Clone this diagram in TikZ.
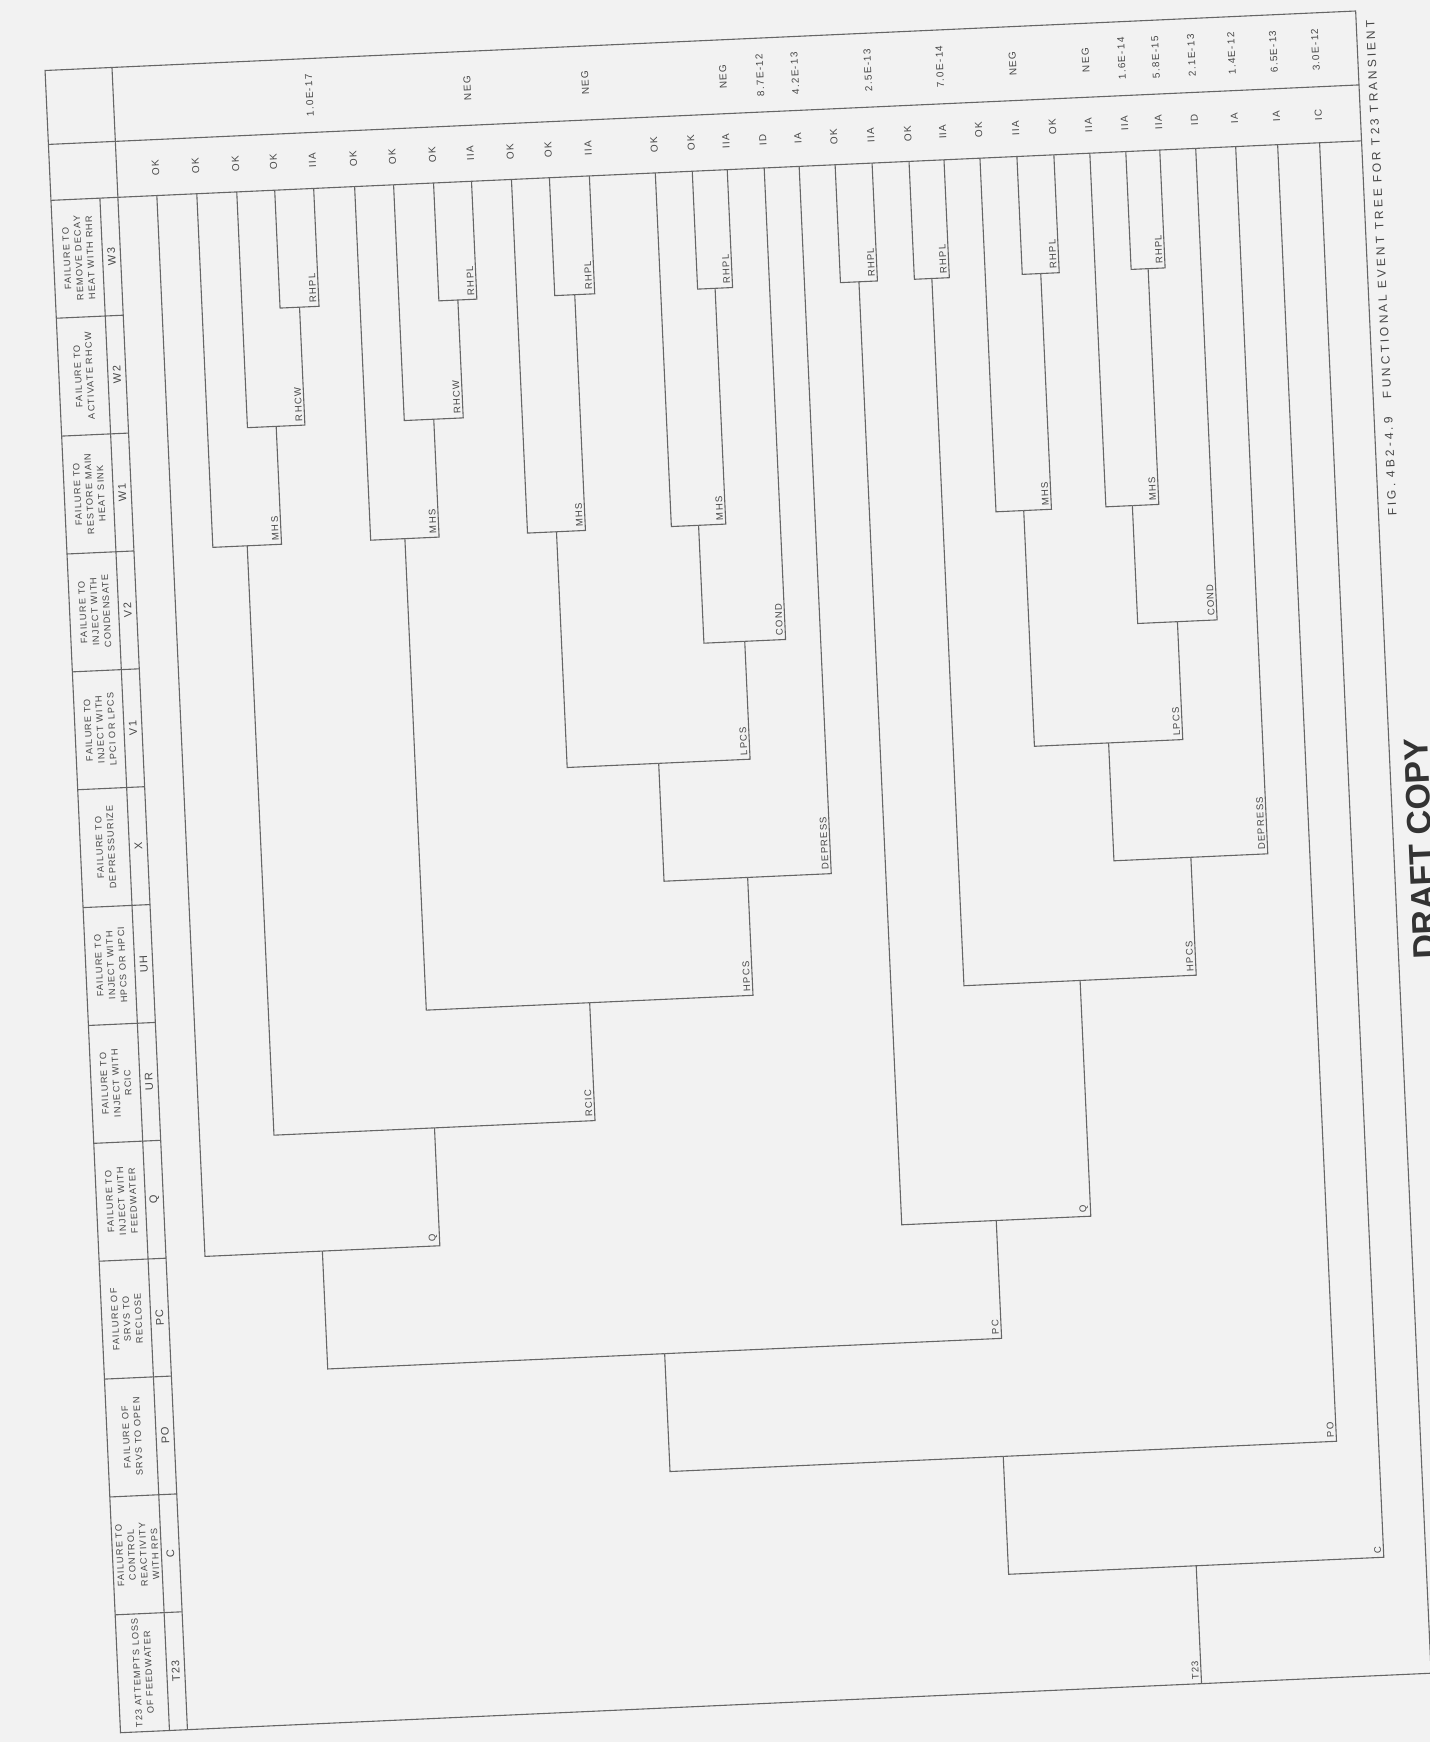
\documentclass[tikz,border=0pt]{standalone}
\usepackage{fontspec}
\setmainfont{Liberation Sans}
\newfontfamily\pf[LetterSpace=12]{Liberation Sans}
\newfontfamily\pfw[LetterSpace=25]{Liberation Sans}
\begin{document}
\begin{tikzpicture}[x=0.5pt,y=-0.5pt,
  ln/.style={draw=black!60, line width=0.55pt},
  hdr/.style={font=\pf\fontsize{4.6}{5.9}\selectfont, rotate=90, align=center, text=black!72, inner sep=0pt},
  code/.style={font=\pf\fontsize{5.5}{6}\selectfont, rotate=90, text=black!72, inner sep=0pt},
  lab/.style={xshift=-0.6pt, yshift=1.5pt, rotate=90, anchor=south west, font=\pf\fontsize{4.8}{5}\selectfont, text=black!72, inner sep=0.3pt},
  cls/.style={font=\pf\fontsize{5}{5}\selectfont, rotate=90, text=black!72, inner sep=0pt},
  frq/.style={font=\pf\fontsize{5}{5}\selectfont, rotate=90, text=black!72, inner sep=0pt},
]
\useasboundingbox (0,0) rectangle (1430,1742);
\fill[black!5] (0,0) rectangle (1430,1742);
\begin{scope}[transform canvas={shift={(100,68)},rotate=2.6}]
% ---------- frame and table ----------
\draw[ln] (-55,0) rectangle (1257,1664);
\draw[ln] (-55,74) -- (1257,74);
\draw[ln] (-55,130) -- (1257,130);
\draw[ln] (12,0) -- (12,1664);
\draw[ln] (-6,130) -- (-6,1664);
\foreach \v in {248,366,484,602,720,838,956,1074,1192,1310,1428,1546}
  \draw[ln] (-55,\v) -- (12,\v);
% ---------- header texts ----------
\node[hdr] (h13) at (-30,189) {FAILURE TO\\REMOVE DECAY\\HEAT WITH RHR};
\node[hdr] (h12) at (-30,307) {FAILURE TO\\ACTIVATE RHCW};
\node[hdr] (h11) at (-30,425) {FAILURE TO\\RESTORE MAIN\\HEAT SINK};
\node[hdr] (h10) at (-30,543) {FAILURE TO\\INJECT WITH\\CONDENSATE};
\node[hdr] (h9) at (-30,661) {FAILURE TO\\INJECT WITH\\LPCI OR LPCS};
\node[hdr] (h8) at (-30,779) {FAILURE TO\\DEPRESSURIZE};
\node[hdr] (h7) at (-30,897) {FAILURE TO\\INJECT WITH\\HPCS OR HPCI};
\node[hdr] (h6) at (-30,1015) {FAILURE TO\\INJECT WITH\\RCIC};
\node[hdr] (h5) at (-30,1133) {FAILURE TO\\INJECT WITH\\FEEDWATER};
\node[hdr] (h4) at (-30,1251) {FAILURE OF\\SRVS TO\\RECLOSE};
\node[hdr] (h3) at (-30,1369) {FAILURE OF\\SRVS TO OPEN};
\node[hdr] (h2) at (-30,1487) {FAILURE TO\\CONTROL\\REACTIVITY\\WITH RPS};
\node[hdr] (h1) at (-30,1605) {T23 ATTEMPTS LOSS\\OF FEEDWATER};
\node[code] (k13) at (3,189) {W3};
\node[code] (k12) at (3,307) {W2};
\node[code] (k11) at (3,425) {W1};
\node[code] (k10) at (3,543) {V2};
\node[code] (k9) at (3,661) {V1};
\node[code] (k8) at (3,779) {X};
\node[code] (k7) at (3,897) {UH};
\node[code] (k6) at (3,1015) {UR};
\node[code] (k5) at (3,1133) {Q};
\node[code] (k4) at (3,1251) {PC};
\node[code] (k3) at (3,1369) {PO};
\node[code] (k2) at (3,1487) {C};
\node[code] (k1) at (3,1605) {T23};
% ---------- leaves ----------
\foreach \u [count=\i] in {51,91,131,169,208,249,288,328,366,406,444,484,550,587,622,659,694,730,767,804,839,875,912,949,985,1021,1055,1091,1131,1173,1215}
  \coordinate (L\i) at (\u,130);
\foreach \u/\c [count=\i] in {51/OK,91/OK,131/OK,169/OK,208/IIA,249/OK,288/OK,328/OK,366/IIA,406/OK,444/OK,484/IIA,550/OK,587/OK,622/IIA,659/ID,694/IA,730/OK,767/IIA,804/OK,839/IIA,875/OK,912/IIA,949/OK,985/IIA,1021/IIA,1055/IIA,1091/ID,1131/IA,1173/IA,1215/IC}
  \node[cls] (cl\i) at (\u,102) {\c};
\foreach \u/\f [count=\i] in {208/1.0E-17,366/NEG,484/NEG,622/NEG,659/8.7E-12,694/4.2E-13,767/2.5E-13,839/7.0E-14,912/NEG,985/NEG,1021/1.6E-14,1055/5.8E-15,1091/2.1E-13,1131/1.4E-12,1173/6.5E-13,1215/3.0E-12}
  \node[frq] (fq\i) at (\u,37) {\f};
% ---------- internal junctions ----------
\coordinate (RHPLa) at (188.5,248);  \coordinate (RHCWa) at (159.75,366); \coordinate (MHSa) at (125.4,484);
\coordinate (RHPLb) at (347,248);    \coordinate (RHCWb) at (317.5,366);  \coordinate (MHSb) at (283.25,484);
\coordinate (RHPLc) at (464,248);    \coordinate (MHSc) at (435,484);
\coordinate (RHPLd) at (604.5,248);  \coordinate (MHSd) at (577.25,484);
\coordinate (CONDa) at (618.1,602);  \coordinate (LPCa) at (526.6,720);
\coordinate (DEPa) at (610.3,838);   \coordinate (HPCa) at (446.8,956);
\coordinate (RCIa) at (286.1,1074);  \coordinate (Qa) at (168.5,1192);
\coordinate (RHPLe) at (748.5,248);  \coordinate (RHPLf) at (821.5,248);
\coordinate (RHPLg) at (930.5,248);  \coordinate (MHSg) at (902.75,484);
\coordinate (RHPLh) at (1038,248);   \coordinate (MHSh) at (1011.5,484);
\coordinate (CONDb) at (1051.25,602);\coordinate (LPCb) at (977,720);
\coordinate (DEPb) at (1054,838);    \coordinate (HPCb) at (937.75,956);
\coordinate (Qb) at (843.1,1192);    \coordinate (PCn) at (505.8,1310);
\coordinate (POn) at (839.4,1428);   \coordinate (Cn) at (1027.2,1546);
\coordinate (T) at (1027.2,1664);
% ---------- branches ----------
\draw[ln] (L4) |- (RHPLa); \draw[ln] (L5) |- node[lab,pos=0.5]{RHPL} (RHPLa);
\draw[ln] (L3) |- (RHCWa); \draw[ln] (RHPLa) |- node[lab,pos=0.5]{RHCW} (RHCWa);
\draw[ln] (L2) |- (MHSa);  \draw[ln] (RHCWa) |- node[lab,pos=0.5]{MHS} (MHSa);
\draw[ln] (L8) |- (RHPLb); \draw[ln] (L9) |- node[lab,pos=0.5]{RHPL} (RHPLb);
\draw[ln] (L7) |- (RHCWb); \draw[ln] (RHPLb) |- node[lab,pos=0.5]{RHCW} (RHCWb);
\draw[ln] (L6) |- (MHSb);  \draw[ln] (RHCWb) |- node[lab,pos=0.5]{MHS} (MHSb);
\draw[ln] (L11) |- (RHPLc); \draw[ln] (L12) |- node[lab,pos=0.5]{RHPL} (RHPLc);
\draw[ln] (L10) |- (MHSc);  \draw[ln] (RHPLc) |- node[lab,pos=0.5]{MHS} (MHSc);
\draw[ln] (L14) |- (RHPLd); \draw[ln] (L15) |- node[lab,pos=0.5]{RHPL} (RHPLd);
\draw[ln] (L13) |- (MHSd);  \draw[ln] (RHPLd) |- node[lab,pos=0.5]{MHS} (MHSd);
\draw[ln] (MHSd) |- (CONDa); \draw[ln] (L16) |- node[lab,pos=0.5]{COND} (CONDa);
\draw[ln] (MHSc) |- (LPCa);  \draw[ln] (CONDa) |- node[lab,pos=0.5]{LPCS} (LPCa);
\draw[ln] (LPCa) |- (DEPa);  \draw[ln] (L17) |- node[lab,pos=0.5]{DEPRESS} (DEPa);
\draw[ln] (MHSb) |- (HPCa);  \draw[ln] (DEPa) |- node[lab,pos=0.5]{HPCS} (HPCa);
\draw[ln] (MHSa) |- (RCIa);  \draw[ln] (HPCa) |- node[lab,pos=0.5]{RCIC} (RCIa);
\draw[ln] (L1) |- (Qa);      \draw[ln] (RCIa) |- node[lab,pos=0.5]{Q} (Qa);
\draw[ln] (L18) |- (RHPLe); \draw[ln] (L19) |- node[lab,pos=0.5]{RHPL} (RHPLe);
\draw[ln] (L20) |- (RHPLf); \draw[ln] (L21) |- node[lab,pos=0.5]{RHPL} (RHPLf);
\draw[ln] (L23) |- (RHPLg); \draw[ln] (L24) |- node[lab,pos=0.5]{RHPL} (RHPLg);
\draw[ln] (L22) |- (MHSg);  \draw[ln] (RHPLg) |- node[lab,pos=0.5]{MHS} (MHSg);
\draw[ln] (L26) |- (RHPLh); \draw[ln] (L27) |- node[lab,pos=0.5]{RHPL} (RHPLh);
\draw[ln] (L25) |- (MHSh);  \draw[ln] (RHPLh) |- node[lab,pos=0.5]{MHS} (MHSh);
\draw[ln] (MHSh) |- (CONDb); \draw[ln] (L28) |- node[lab,pos=0.5]{COND} (CONDb);
\draw[ln] (MHSg) |- (LPCb);  \draw[ln] (CONDb) |- node[lab,pos=0.5]{LPCS} (LPCb);
\draw[ln] (LPCb) |- (DEPb);  \draw[ln] (L29) |- node[lab,pos=0.5]{DEPRESS} (DEPb);
\draw[ln] (RHPLf) |- (HPCb); \draw[ln] (DEPb) |- node[lab,pos=0.5]{HPCS} (HPCb);
\draw[ln] (RHPLe) |- (Qb);   \draw[ln] (HPCb) |- node[lab,pos=0.5]{Q} (Qb);
\draw[ln] (Qa) |- (PCn);     \draw[ln] (Qb) |- node[lab,pos=0.5]{PC} (PCn);
\draw[ln] (PCn) |- (POn);    \draw[ln] (L30) |- node[lab,pos=0.5]{PO} (POn);
\draw[ln] (POn) |- (Cn);     \draw[ln] (L31) |- node[lab,pos=0.5]{C} (Cn);
\draw[ln] (T) -- node[lab,pos=0]{T23} (Cn);
% ---------- caption and stamp ----------
\node[rotate=90, font=\pfw\fontsize{6}{6}\selectfont, text=black!72] (cap) at (1271,258) {FIG. 4B2-4.9 \ \ FUNCTIONAL EVENT TREE FOR T23 TRANSIENT};
\node[rotate=90, font=\fontsize{17}{18}\bfseries, text=black!80] (stamp) at (1284,840) {DRAFT COPY};
\end{scope}
\end{tikzpicture}
\end{document}
